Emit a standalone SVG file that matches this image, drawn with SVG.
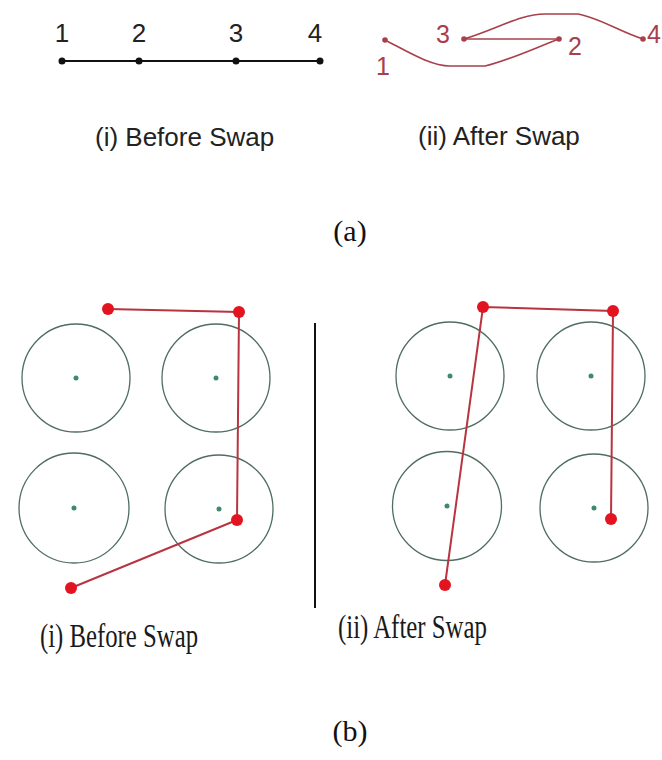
<svg xmlns="http://www.w3.org/2000/svg" width="662" height="760" viewBox="0 0 662 760">
<style>
.sans{font-family:"Liberation Sans",Arial,sans-serif;}
.serif{font-family:"Liberation Serif","Times New Roman",serif;}
.blk{fill:#111;}
.num{font-size:26px;fill:#222;text-anchor:middle;}
.rnum{font-size:25px;fill:#a8404c;text-anchor:middle;}
.cap{font-size:26px;fill:#222;}
.bcap{font-size:34px;fill:#1a1a1a;}
.lbl{font-size:30px;fill:#111;text-anchor:middle;}
.bl{stroke:#111;stroke-width:2;fill:none;}
.rl{stroke:#a8404c;stroke-width:1.6;fill:none;}
.rdot{fill:#a8404c;}
.circ{fill:none;stroke:#4f6e5e;stroke-width:1.3;}
.cdot{fill:#3f8a6a;}
.pl{stroke:#b83440;stroke-width:2;fill:none;}
.pdot{fill:#e3141f;}
</style>

<!-- (a) left: before swap -->
<g id="a-before">
  <g id="a-connectors">
    <line class="bl" x1="62" y1="61" x2="320" y2="61"/>
  </g>
  <g id="a1"><circle class="blk" cx="62" cy="61" r="3.5"/><text class="sans num" x="62" y="42">1</text></g>
  <g id="a2"><circle class="blk" cx="139" cy="61" r="3.5"/><text class="sans num" x="139" y="42">2</text></g>
  <g id="a3"><circle class="blk" cx="236" cy="61" r="3.5"/><text class="sans num" x="236" y="42">3</text></g>
  <g id="a4"><circle class="blk" cx="320" cy="61" r="3.5"/><text class="sans num" x="315" y="42">4</text></g>
  <text class="sans cap" x="95" y="146">(i) Before Swap</text>
</g>

<!-- (a) right: after swap -->
<g id="a-after">
  <g id="a-after-connectors">
    <path class="rl" d="M385,40 C405,50 430,66 450,66 L485,66 C510,60 535,48 559,39"/>
    <line class="rl" x1="464" y1="39" x2="559" y2="39"/>
    <path class="rl" d="M464,39 C495,30 520,14 545,14 L578,14 C600,18 620,32 643,39"/>
  </g>
  <g id="b1"><circle class="rdot" cx="385" cy="40" r="2.8"/><text class="sans rnum" x="383" y="75">1</text></g>
  <g id="b3"><circle class="rdot" cx="464" cy="39" r="2.8"/><text class="sans rnum" x="443" y="43">3</text></g>
  <g id="b2"><circle class="rdot" cx="559" cy="39" r="2.8"/><text class="sans rnum" x="575" y="55">2</text></g>
  <g id="b4"><circle class="rdot" cx="643" cy="39" r="2.8"/><text class="sans rnum" x="654" y="43">4</text></g>
  <text class="sans cap" x="418" y="145">(ii) After Swap</text>
</g>

<g id="label-a"><text class="serif lbl" x="350" y="241">(a)</text></g>

<!-- (b) left -->
<g id="b-before">
  <g id="bl-c1"><circle class="circ" cx="76" cy="378" r="54"/><circle class="cdot" cx="76" cy="378" r="2.5"/></g>
  <g id="bl-c2"><circle class="circ" cx="216" cy="378" r="54"/><circle class="cdot" cx="216" cy="378" r="2.5"/></g>
  <g id="bl-c3"><circle class="circ" cx="74" cy="508" r="55"/><circle class="cdot" cx="74" cy="508" r="2.5"/></g>
  <g id="bl-c4"><circle class="circ" cx="219" cy="509" r="54"/><circle class="cdot" cx="219" cy="509" r="2.5"/></g>
  <g id="bl-path">
    <polyline class="pl" points="108,309 239,312 237,520 71,588"/>
  </g>
  <g id="bl-pins">
    <circle class="pdot" cx="108" cy="309" r="6"/>
    <circle class="pdot" cx="239" cy="312" r="6"/>
    <circle class="pdot" cx="237" cy="520" r="6"/>
    <circle class="pdot" cx="71" cy="588" r="6"/>
  </g>
  <text class="serif bcap" x="40" y="647" textLength="158" lengthAdjust="spacingAndGlyphs">(i) Before Swap</text>
</g>

<line id="divider" x1="315" y1="323" x2="315" y2="608" stroke="#111" stroke-width="2"/>

<!-- (b) right -->
<g id="b-after">
  <g id="br-c1"><circle class="circ" cx="450" cy="376" r="54"/><circle class="cdot" cx="450" cy="376" r="2.5"/></g>
  <g id="br-c2"><circle class="circ" cx="591" cy="376" r="54"/><circle class="cdot" cx="591" cy="376" r="2.5"/></g>
  <g id="br-c3"><circle class="circ" cx="447" cy="506" r="54.5"/><circle class="cdot" cx="447" cy="506" r="2.5"/></g>
  <g id="br-c4"><circle class="circ" cx="594" cy="508" r="54"/><circle class="cdot" cx="594" cy="508" r="2.5"/></g>
  <g id="br-path">
    <polyline class="pl" points="445,585 483,307 613,311 611,519"/>
  </g>
  <g id="br-pins">
    <circle class="pdot" cx="483" cy="307" r="6"/>
    <circle class="pdot" cx="613" cy="311" r="6"/>
    <circle class="pdot" cx="611" cy="519" r="6"/>
    <circle class="pdot" cx="445" cy="585" r="6"/>
  </g>
  <text class="serif bcap" x="338" y="638" textLength="149" lengthAdjust="spacingAndGlyphs">(ii) After Swap</text>
</g>

<g id="label-b"><text class="serif lbl" x="350" y="741">(b)</text></g>
</svg>
